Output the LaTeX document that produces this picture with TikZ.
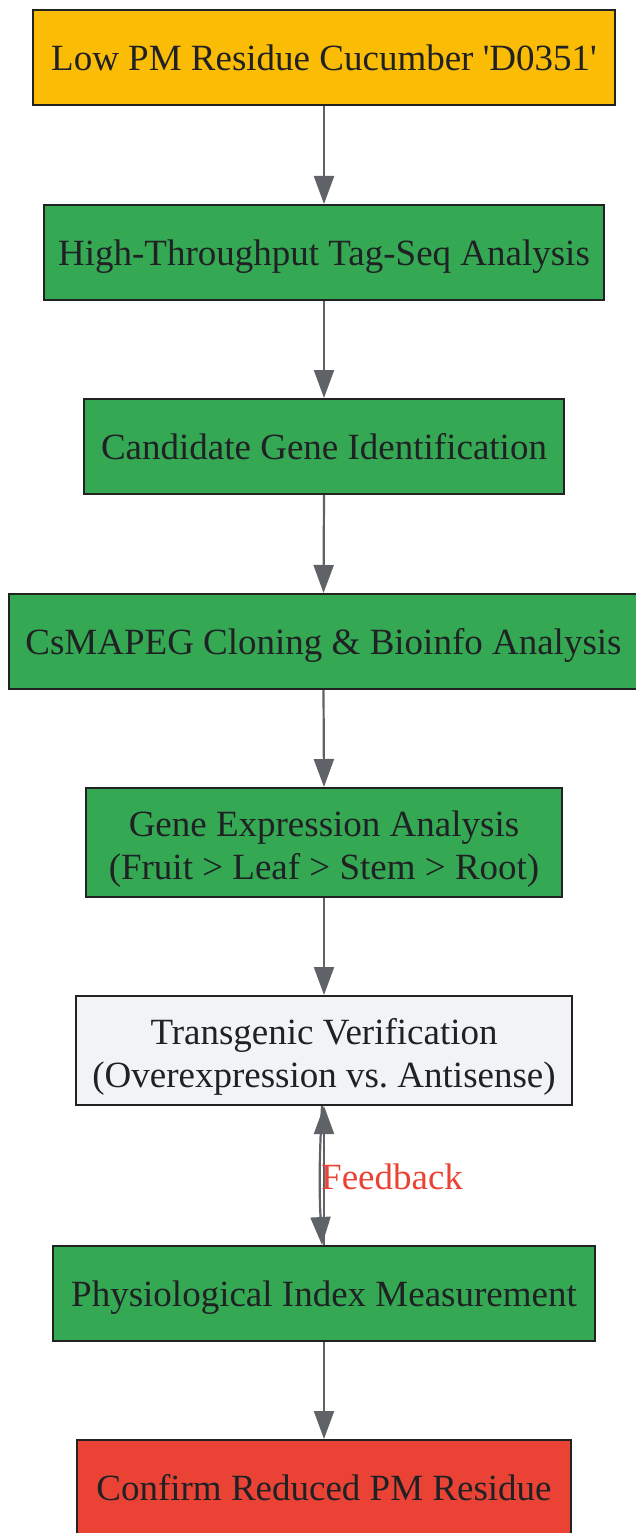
\documentclass[tikz,border=0pt]{standalone}
\usepackage{fontspec}
\setmainfont{Liberation Serif}[Ligatures=TeXOff]
\usetikzlibrary{arrows.meta}
\definecolor{cyellow}{HTML}{FBBC05}
\definecolor{cgreen}{HTML}{34A853}
\definecolor{cgray}{HTML}{F1F3F4}
\definecolor{cred}{HTML}{EA4335}
\definecolor{cline}{HTML}{5F6368}
\definecolor{cborder}{HTML}{222222}
\definecolor{ctext}{HTML}{202124}
\newcommand{\topstrut}[1]{\rule{0pt}{#1}}
\newcommand{\botstrut}{\rule[-9pt]{0pt}{0pt}}
\tikzset{
  box/.style={draw=cborder, line width=2pt, inner sep=0pt, align=center,
    text=ctext, font=\fontsize{37}{43}\selectfont},
  one/.style={box, minimum height=95pt},
  two/.style={box, minimum height=109pt},
  arr/.style={draw=cline, line width=2.2pt, -{Triangle[length=28pt,width=20pt]}},
}
\begin{document}
\begin{tikzpicture}[x=1pt,y=1pt]
\useasboundingbox (0,0) rectangle (635,-1533);
\node[one, fill=cyellow, minimum width=582pt] (n1) at (324,-57.5) {\topstrut{35pt}Low PM Residue Cucumber 'D0351'\botstrut};
\node[one, fill=cgreen, minimum width=560pt] (n2) at (324,-252.5) {\topstrut{35pt}High-Throughput Tag-Seq Analysis\botstrut};
\node[one, fill=cgreen, minimum width=480pt] (n3) at (324,-446.5) {\topstrut{35pt}Candidate Gene Identification\botstrut};
\node[one, fill=cgreen, minimum width=629pt] (n4) at (323.5,-641.5) {\topstrut{35pt}CsMAPEG Cloning \& Bioinfo Analysis\botstrut};
\node[two, fill=cgreen, minimum width=476pt] (n5) at (324,-842.5) {\topstrut{39pt}Gene Expression Analysis\\(Fruit > Leaf > Stem > Root)\botstrut};
\node[two, fill=cgray, minimum width=496pt] (n6) at (324,-1050.5) {\topstrut{39pt}Transgenic Verification\\(Overexpression vs.\ Antisense)\botstrut};
\node[one, fill=cgreen, minimum width=542pt] (n7) at (324,-1293.5) {\topstrut{35pt}Physiological Index Measurement\botstrut};
\node[one, fill=cred, minimum width=494pt] (n8) at (324,-1487.5) {\topstrut{35pt}Confirm Reduced PM Residue\botstrut};
\draw[arr] (n1.south) -- (n2.north);
\draw[arr] (n2.south) -- (n3.north);
\draw[arr] (n3.south) -- (n4.north);
\draw[arr] (n4.south) -- (n5.north);
\draw[arr] (n5.south) -- (n6.north);
\draw[arr] ([xshift=-2pt]n6.south) to[bend right=3] ([xshift=-2pt]n7.north);
\draw[arr] ([xshift=0pt]n7.north) -- ([xshift=0pt]n6.south);
\node[anchor=west, text=cred, inner sep=0pt, font=\fontsize{37}{43}\selectfont] (fb) at (321,-1177) {Feedback};
\draw[arr] (n7.south) -- (n8.north);
\end{tikzpicture}
\end{document}
